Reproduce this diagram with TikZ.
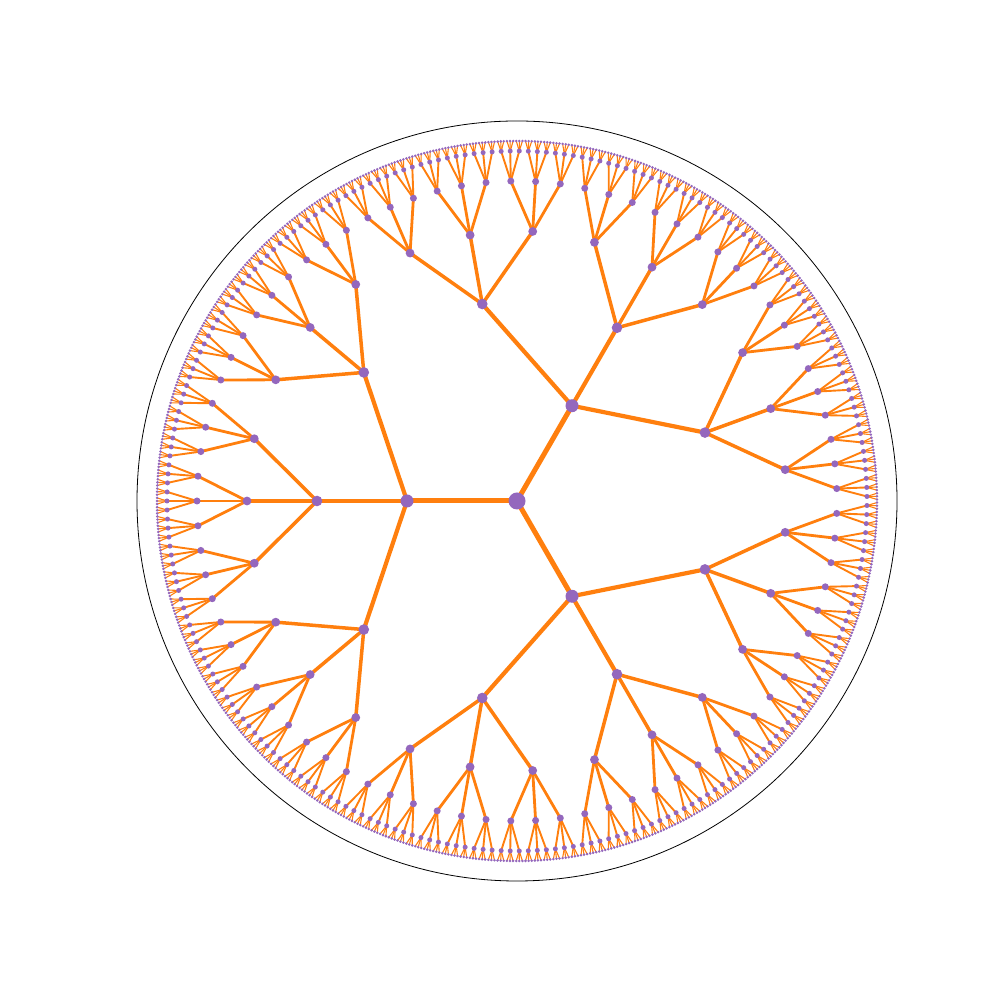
\documentclass[tikz,border=0pt]{standalone}
\definecolor{torange}{HTML}{FF7F0E}
\definecolor{tpurple}{HTML}{9467BD}
\tikzset{
  dot/.style={circle, fill=tpurple, draw=none, inner sep=0pt},
  edge/.style={draw=torange},
  disk/.style={circle, draw=black, line width=0.8pt, inner sep=0pt, minimum size=760pt}
}
\begin{document}
\begin{tikzpicture}[x=1pt,y=1pt]
\useasboundingbox (0,0) rectangle (1008,1008);
\node[disk] (rim) at (517,507) {};
\begin{scope}[shift={(517,507)}]
\coordinate (n-0-0) at (0,0);
% tree positions and edges
\foreach \k/\w in {1/5,2/4.2,3/3.5,4/2.8,5/1.9,6/1.1} {
  \pgfmathtruncatemacro\Nm{3^\k-1}
  \pgfmathsetmacro\rr{360*(1-(1-\k/6)^2)}
  \pgfmathsetmacro\astep{360/(3^\k)}
  \pgfmathtruncatemacro\km{\k-1}
  \foreach \i in {0,...,\Nm} {
    \pgfmathsetmacro\ang{(\i+0.5)*\astep}
    \pgfmathtruncatemacro\p{floor(\i/3)}
    \coordinate (n-\k-\i) at (\ang:\rr);
    \draw[edge, line width=\w pt] (n-\km-\p) -- (n-\k-\i);
  }
}
% vertices
\node[dot, minimum size=17pt] (d-0-0) at (n-0-0) {};
\foreach \k/\rad in {1/13,2/10.6,3/8.8,4/7,5/5,6/2.8} {
  \pgfmathtruncatemacro\Nm{3^\k-1}
  \foreach \i in {0,...,\Nm} {
    \node[dot, minimum size=\rad pt] (d-\k-\i) at (n-\k-\i) {};
  }
}
\end{scope}
\end{tikzpicture}
\end{document}
